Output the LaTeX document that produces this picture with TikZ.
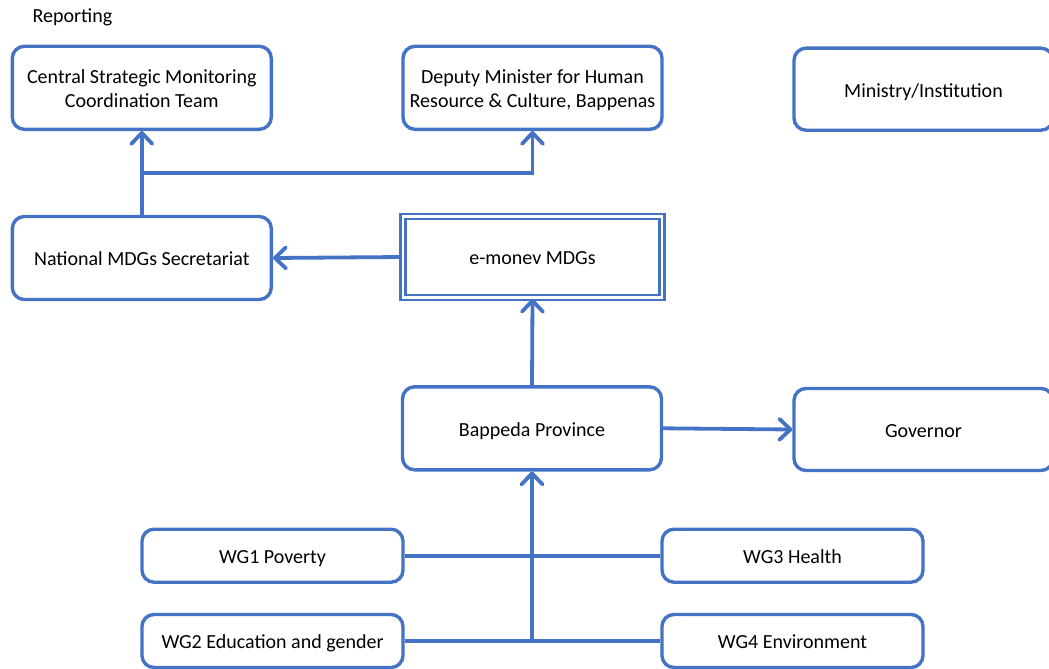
\documentclass[tikz,border=0pt]{standalone}
\usepackage{fontspec}
\setmainfont{Carlito}
\usetikzlibrary{arrows.meta}
\definecolor{blu}{HTML}{4472C4}
\newcommand\mylbl[1]{\raisebox{-3pt}[\height][\depth]{\begin{tabular}{@{}c@{}}#1\end{tabular}}}
\begin{document}
\begin{tikzpicture}[x=1pt,y=-1pt,
  txt/.style={font=\fontsize{20}{24}\selectfont, text=black},
  box/.style={txt, draw=blu, line width=3.4pt, rounded corners=12pt, minimum width=259pt, minimum height=83pt, align=center, inner sep=0pt},
  dbox/.style={txt, draw=blu, double=white, double distance=2.4pt, line width=2.6pt, minimum width=259pt, minimum height=81pt, align=center, inner sep=0pt},
  wg/.style={box, minimum width=261pt, minimum height=53pt},
  conn/.style={draw=blu, line width=3.8pt},
  arr/.style={conn, -{Straight Barb[length=11pt,width=21pt,round]}}]
\useasboundingbox (0,0) rectangle (1049,669);
\clip (0,0) rectangle (1049,669);
\node[txt, anchor=west, inner sep=0pt] (rep) at (32.5,17) {Reporting};
\node[box] (csmc) at (141.8,87.8) {\mylbl{Central Strategic Monitoring\\Coordination Team}};
\node[box] (dep) at (532.5,87.8) {\mylbl{Deputy Minister for Human\\Resource \& Culture, Bappenas}};
\node[box, minimum height=82pt] (min) at (923.5,89.2) {\mylbl{Ministry/Institution}};
\node[box] (nms) at (141.8,258) {\mylbl{National MDGs Secretariat}};
\node[dbox] (emo) at (532.5,257) {\mylbl{e-monev MDGs}};
\node[box] (bap) at (532,428.3) {\mylbl{Bappeda Province}};
\node[box, minimum height=82pt] (gov) at (923.5,429.5) {\mylbl{Governor}};
\node[wg] (wg1) at (272.5,555.7) {\mylbl{WG1 Poverty}};
\node[wg] (wg3) at (792.5,555.7) {\mylbl{WG3 Health}};
\node[wg] (wg2) at (272.5,641) {\mylbl{WG2 Education and gender}};
\node[wg] (wg4) at (792.5,641) {\mylbl{WG4 Environment}};
\coordinate (jy) at (0,173);
\coordinate (j1) at (nms.north |- jy);
\draw[arr] (nms.north) -- (csmc.south);
\draw[arr] (j1) -| (dep.south);
\draw[arr] (emo.west) -- (nms.east);
\draw[arr] (bap.north) -- (emo.south);
\draw[arr] (bap.east) -- (gov.west);
\draw[conn] (wg1.east) -- (wg3.west);
\draw[conn] (wg2.east) -- (wg4.west);
\coordinate (t) at (bap.south |- wg2.east);
\draw[arr] (t) -- (bap.south);
\end{tikzpicture}
\end{document}
